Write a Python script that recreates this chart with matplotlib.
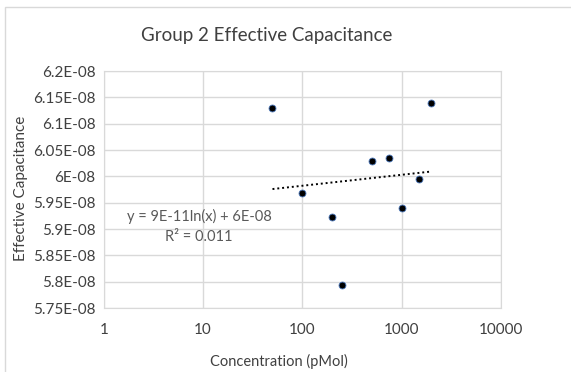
import matplotlib.pyplot as plt
import numpy as np
from matplotlib.ticker import FixedLocator, FixedFormatter

plt.rcParams['font.family'] = ['Lato', 'DejaVu Sans']

# data
conc = [50, 100, 200, 250, 500, 750, 1000, 1500, 2000]
cap = [6.130e-08, 5.969e-08, 5.923e-08, 5.793e-08, 6.030e-08, 6.035e-08, 5.939e-08, 5.995e-08, 6.139e-08]
yticks = [5.75e-08, 5.8e-08, 5.85e-08, 5.9e-08, 5.95e-08, 6e-08, 6.05e-08, 6.1e-08, 6.15e-08, 6.2e-08]
ylabels = ['5.75E-08', '5.8E-08', '5.85E-08', '5.9E-08', '5.95E-08', '6E-08', '6.05E-08', '6.1E-08', '6.15E-08', '6.2E-08']
xticks = [1, 10, 100, 1000, 10000]
xlabels = ['1', '10', '100', '1000', '10000']

grey = '#595959'
dark = '#404040'
gridc = '#d9d9d9'

fig = plt.figure(figsize=(5.71, 3.72), dpi=100)
ax = fig.add_axes([0.182, 0.172, 0.695, 0.637])

# log trendline (like excel)
a, b = np.polyfit(np.log(conc), cap, 1)
xt = np.linspace(min(conc), max(conc), 200)
ax.plot(xt, a*np.log(xt)+b, color='black', lw=1.4, linestyle=(0, (1, 1.5)), zorder=2)

ax.plot(conc, cap, 'o', color='black', markersize=5, markeredgecolor='#4f7cc0', markeredgewidth=0.6, zorder=3)

ax.set_xscale('log')
ax.set_xlim(1, 10000)
ax.set_ylim(5.75e-08, 6.2e-08)
ax.xaxis.set_major_locator(FixedLocator(xticks))
ax.xaxis.set_major_formatter(FixedFormatter(xlabels))
ax.xaxis.set_minor_locator(FixedLocator([]))
ax.set_yticks(yticks)
ax.set_yticklabels(ylabels)
ax.tick_params(length=0, labelsize=11, colors=dark, pad=6)
ax.tick_params(axis='x', pad=11)
ax.grid(True, color=gridc, lw=1)
ax.set_axisbelow(True)
for s in ax.spines.values():
    s.set_color(gridc)

ax.text(0.24, 0.385, 'y = 9E-11ln(x) + 6E-08', transform=ax.transAxes, ha='center', va='center', fontsize=10.5, color=grey)
ax.text(0.24, 0.30, 'R² = 0.011', transform=ax.transAxes, ha='center', va='center', fontsize=10.5, color=grey)

fig.text(267/571, 1-35/372, 'Group 2 Effective Capacitance', ha='center', va='center', fontsize=13.5, color=dark)
fig.text(279/571, 1-361/372, 'Concentration (pMol)', ha='center', va='center', fontsize=10.5, color=dark)
fig.text(21/571, 1-188/372, 'Effective Capacitance', ha='center', va='center', rotation=90, fontsize=11, color=dark)

# outer chart border
fig.patches.append(plt.Rectangle((5/571, -0.01), 1, 1-7/372+0.01, transform=fig.transFigure, fill=False, edgecolor=gridc, lw=1))

fig.savefig('out.png', dpi=100)
